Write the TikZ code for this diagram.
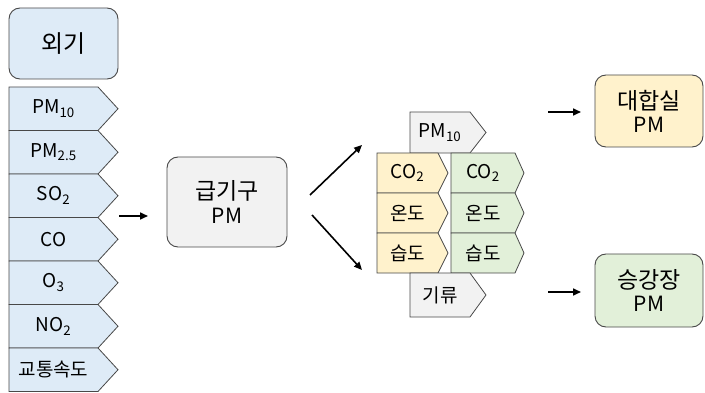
\documentclass[tikz,border=0pt]{standalone}
\usepackage{fontspec}
\setmainfont{Noto Sans CJK KR}
\usetikzlibrary{calc,arrows.meta}
\definecolor{bordc}{HTML}{484848}
\definecolor{bluef}{HTML}{DEEBF7}
\definecolor{grayf}{HTML}{F2F2F2}
\definecolor{yelf}{HTML}{FFF2CC}
\definecolor{grnf}{HTML}{E2F0D9}
\tikzset{
  roundbox/.style={draw=bordc, line width=0.9pt, rounded corners=11pt, align=center, inner sep=0pt},
  chev/.style={draw=bordc, line width=0.8pt},
  lbl/.style={inner sep=0pt, font=\fontsize{19}{22}\selectfont},
  arr/.style={-{Triangle[length=8pt,width=7pt]}, line width=1.6pt},
}
\newcommand\chevbox[8]{%
  \draw[chev, fill=#7] (#2,#3) -- ({#2+#4},#3) -- ({#2+#4+#6},{#3+#5/2}) -- ({#2+#4},{#3+#5}) -- (#2,{#3+#5}) -- cycle;
  \node[lbl] (#1) at ({#2+#4/2},{#3+#5/2}) {#8};}
\begin{document}
\begin{tikzpicture}[x=1pt,y=-1pt]
\useasboundingbox (0,0) rectangle (705,393);
% left
\node[roundbox, fill=bluef, minimum width=109pt, minimum height=71pt, font=\fontsize{24}{28}\selectfont] (oegi) at (63.5,43.5) {외기};
\chevbox{s1}{9}{87}{89}{43.5}{20}{bluef}{PM\textsubscript{10}}
\chevbox{s2}{9}{130.5}{89}{43.5}{20}{bluef}{PM\textsubscript{2.5}}
\chevbox{s3}{9}{174}{89}{43.5}{20}{bluef}{SO\textsubscript{2}}
\chevbox{s4}{9}{217.5}{89}{43.5}{20}{bluef}{CO}
\chevbox{s5}{9}{261}{89}{43.5}{20}{bluef}{O\textsubscript{3}}
\chevbox{s6}{9}{304.5}{89}{43.5}{20}{bluef}{NO\textsubscript{2}}
\chevbox{s7}{9}{348}{89}{43.5}{20}{bluef}{교통속도}
% supply
\node[roundbox, fill=grayf, minimum width=120pt, minimum height=90pt, font=\fontsize{23}{25}\selectfont] (sup) at (227,202) {급기구\\[-1pt]{\fontsize{21}{23}\selectfont PM}};
% middle
\chevbox{m0}{410}{112}{60}{41}{16}{grayf}{PM\textsubscript{10}}
\chevbox{y1}{377}{153}{61}{40}{10}{yelf}{CO\textsubscript{2}}
\chevbox{y2}{377}{193}{61}{40}{10}{yelf}{온도}
\chevbox{y3}{377}{233}{61}{40}{10}{yelf}{습도}
\chevbox{g1}{451}{153}{64}{40}{9}{grnf}{CO\textsubscript{2}}
\chevbox{g2}{451}{193}{64}{40}{9}{grnf}{온도}
\chevbox{g3}{451}{233}{64}{40}{9}{grnf}{습도}
\chevbox{m4}{410}{273}{60}{44}{16}{grayf}{기류}
% right
\node[roundbox, fill=yelf, minimum width=108pt, minimum height=72pt, font=\fontsize{23}{25}\selectfont] (hall) at (649,111) {대합실\\[-2pt]{\fontsize{21}{23}\selectfont PM}};
\node[roundbox, fill=grnf, minimum width=108pt, minimum height=73pt, font=\fontsize{23}{25}\selectfont] (plat) at (649,290.5) {승강장\\[-2pt]{\fontsize{21}{23}\selectfont PM}};
% arrows
\coordinate (a1s) at (119,216); \coordinate (a1e) at (148,216);
\coordinate (a2s) at (310,195); \coordinate (a2e) at (362,145);
\coordinate (a3s) at (312,215); \coordinate (a3e) at (362,270);
\coordinate (a4s) at (548,112); \coordinate (a4e) at (581,112);
\coordinate (a5s) at (548,292); \coordinate (a5e) at (581,292);
\draw[arr] (a1s) -- (a1e);
\draw[arr] (a2s) -- (a2e);
\draw[arr] (a3s) -- (a3e);
\draw[arr] (a4s) -- (a4e);
\draw[arr] (a5s) -- (a5e);
\end{tikzpicture}
\end{document}
